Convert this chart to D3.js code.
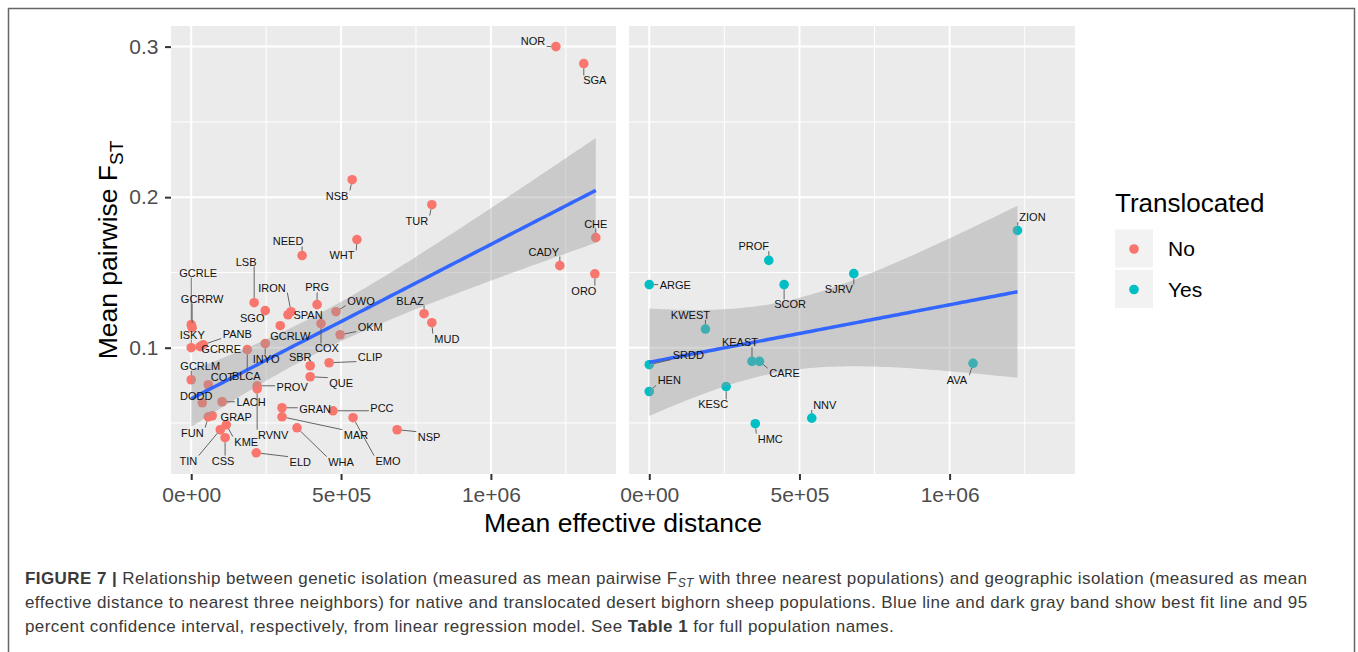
<!DOCTYPE html>
<html>
<head>
<meta charset="utf-8">
<script src="https://cdn.jsdelivr.net/npm/d3@7"></script>
<style>
  body { margin: 0; background: #fff; }
  svg text { font-family: "Liberation Sans", Arial, sans-serif; }
</style>
</head>
<body>
<svg id="chart" width="1358" height="652"></svg>
<script>
// ---- data ----
const popsNo = ["NOR","SGA","NSB","TUR","CHE","WHT","NEED","CADY","ORO","LSB","PRG","SGO","IRON","OWO","SPAN","BLAZ","MUD",
  "GCRLE","GCRRW","GCRLW","COX","OKM","ISKY","PANB","GCRRE","INYO","BLCA","SBR","CLIP","QUE","GCRLM","COT","PROV","RVNV",
  "DODD","LACH","GRAN","PCC","MAR","EMO","GRAP","FUN","KME","TIN","WHA","NSP","CSS","ELD"];
const distNo = [1217000,1310000,537000,803000,1350000,553000,370000,1230000,1347000,210000,420000,247000,333000,483000,323000,777000,803000,
  0,3000,297000,433000,497000,0,40000,30000,247000,187000,397000,460000,397000,0,57000,220000,220000,
  37000,103000,303000,473000,303000,540000,70000,57000,117000,97000,353000,687000,113000,217000];
const fstNo = [0.300,0.2887,0.2116,0.1950,0.1731,0.1718,0.1612,0.1545,0.1491,0.1299,0.1286,0.1246,0.1239,0.1239,0.1219,0.1226,0.1166,
  0.1153,0.1133,0.1146,0.1160,0.1086,0.1000,0.1020,0.1007,0.1027,0.0987,0.0880,0.0900,0.0807,0.0787,0.0754,0.0747,0.0727,
  0.0634,0.0641,0.0601,0.0581,0.0541,0.0535,0.0548,0.0541,0.0488,0.0455,0.0468,0.0455,0.0402,0.0302];

const popsYes = ["ZION","PROF","SJRV","ARGE","SCOR","KWEST","KEAST","CARE","SRDD","AVA","HEN","KESC","HMC","NNV"];
const distYes = [1226000,398000,681000,0,449000,187000,342000,367000,0,1078000,0,256000,353000,541000];
const fstYes  = [0.1779,0.1580,0.1492,0.1419,0.1419,0.1124,0.0909,0.0909,0.0887,0.0896,0.0709,0.0742,0.0495,0.0532];

const xMajor = [0, 5e5, 1e6];
const xMinor = [2.5e5, 7.5e5, 1.25e6];
const yMajor = [0.1, 0.2, 0.3];
const yMinor = [0.05, 0.15, 0.25];
const groupLabels = ["No", "Yes"];

// label placement (repel layout, px offsets from each point)
const nudge = {
  NOR:[-23,-5], SGA:[11,17], NSB:[-15,16], TUR:[-15,16], CHE:[0,-14], WHT:[-15,16], NEED:[-14,-14], CADY:[-16,-14],
  ORO:[-11,17], LSB:[-8,-41], PRG:[0,-17], SGO:[-13,7], IRON:[-19,-24], OWO:[25,-11], SPAN:[20,0], BLAZ:[-14,-13],
  MUD:[15,16], GCRLE:[7,-52], GCRRW:[10,-29], GCRLW:[10,10], COX:[6,25], OKM:[30,-8], ISKY:[1,-13], PANB:[34,-11],
  GCRRE:[21,3], INYO:[1,16], BLCA:[-1,26], SBR:[-10,-9], CLIP:[41,-6], QUE:[31,6], GCRLM:[9,-14], COT:[14,-8],
  PROV:[35,1], RVNV:[16,46], DODD:[-6,-7], LACH:[29,0], GRAN:[33,1], PCC:[49,-3], MAR:[74,18], EMO:[35,43],
  GRAP:[24,1], FUN:[-16,16], KME:[20,17], TIN:[-32,31], WHA:[44,34], NSP:[32,7], CSS:[-2,23], ELD:[44,9],
  ZION:[15,-13], PROF:[-15,-14], SJRV:[-15,16], ARGE:[26,1], SCOR:[6,20], KWEST:[-15,-14], KEAST:[-12,-19],
  CARE:[25,12], SRDD:[39,-10], AVA:[-16,17], HEN:[20,-11], KESC:[-13,18], HMC:[15,15], NNV:[13,-13]
};

const colNo = "#F8766D", colYes = "#00BFC4";
const svg = d3.select("#chart");

// figure frame
svg.append("rect").attr("x", 8.5).attr("y", 8.5).attr("width", 1346).attr("height", 700)
  .attr("fill", "none").attr("stroke", "#666").attr("stroke-width", 1.5);

const panelTop = 26, panelBottom = 474;
const y = d3.scaleLinear().domain([0.0161, 0.3137]).range([panelBottom, panelTop]);
const xDomain = [-67500, 1417500];

// simple OLS with confidence band
function fitLM(xs, ys, tval) {
  const n = xs.length, mx = d3.mean(xs), my = d3.mean(ys);
  let sxx = 0, sxy = 0;
  xs.forEach((v, i) => { sxx += (v - mx) ** 2; sxy += (v - mx) * (ys[i] - my); });
  const b = sxy / sxx, a = my - b * mx;
  let rss = 0;
  xs.forEach((v, i) => { rss += (ys[i] - (a + b * v)) ** 2; });
  const s2 = rss / (n - 2);
  const lo = d3.min(xs), hi = d3.max(xs);
  return d3.range(81).map(i => {
    const xv = lo + (hi - lo) * i / 80;
    const fit = a + b * xv;
    const se = Math.sqrt(s2 * (1 / n + (xv - mx) ** 2 / sxx));
    return { x: xv, fit: fit, lo: fit - tval * se, hi: fit + tval * se };
  });
}

function drawPanel(x0, x1, pops, dist, fst, color, tval, showY, id) {
  const x = d3.scaleLinear().domain(xDomain).range([x0, x1]);
  const g = svg.append("g");

  g.append("clipPath").attr("id", "clip" + id).append("rect")
    .attr("x", x0).attr("y", panelTop).attr("width", x1 - x0).attr("height", panelBottom - panelTop);

  g.append("rect").attr("x", x0).attr("y", panelTop).attr("width", x1 - x0).attr("height", panelBottom - panelTop)
    .attr("fill", "#EBEBEB");

  // grid
  g.selectAll(".ymin").data(yMinor).enter().append("line")
    .attr("x1", x0).attr("x2", x1).attr("y1", d => y(d)).attr("y2", d => y(d))
    .attr("stroke", "#fff").attr("stroke-width", 1);
  g.selectAll(".xmin").data(xMinor).enter().append("line")
    .attr("y1", panelTop).attr("y2", panelBottom).attr("x1", d => x(d)).attr("x2", d => x(d))
    .attr("stroke", "#fff").attr("stroke-width", 1);
  g.selectAll(".ymaj").data(yMajor).enter().append("line")
    .attr("x1", x0).attr("x2", x1).attr("y1", d => y(d)).attr("y2", d => y(d))
    .attr("stroke", "#fff").attr("stroke-width", 2);
  g.selectAll(".xmaj").data(xMajor).enter().append("line")
    .attr("y1", panelTop).attr("y2", panelBottom).attr("x1", d => x(d)).attr("x2", d => x(d))
    .attr("stroke", "#fff").attr("stroke-width", 2);

  // points
  const pts = pops.map((p, i) => ({ name: p, px: x(dist[i]), py: y(fst[i]) }));
  g.append("g").selectAll("circle").data(pts).enter().append("circle")
    .attr("cx", d => d.px).attr("cy", d => d.py).attr("r", 4.8)
    .attr("fill", color);

  // regression band and line
  const fit = fitLM(dist, fst, tval);
  const cg = g.append("g").attr("clip-path", "url(#clip" + id + ")");
  cg.append("path").datum(fit)
    .attr("d", d3.area().x(d => x(d.x)).y0(d => y(d.lo)).y1(d => y(d.hi)))
    .attr("fill", "#999").attr("fill-opacity", 0.4);
  cg.append("path").datum(fit)
    .attr("d", d3.line().x(d => x(d.x)).y(d => y(d.fit)))
    .attr("fill", "none").attr("stroke", "#3366FF").attr("stroke-width", 3.5);

  // labels with segments
  const lg = g.append("g");
  const segs = lg.append("g");
  pts.forEach(d => {
    const off = nudge[d.name] || [0, -12];
    const t = lg.append("text")
      .attr("x", d.px + off[0]).attr("y", d.py + off[1]).attr("dy", "0.35em")
      .attr("text-anchor", "middle").attr("font-size", 11).attr("fill", "#111")
      .text(d.name);
    const bb = t.node().getBBox();
    const pad = 1.5;
    const bx = Math.max(bb.x - pad, Math.min(d.px, bb.x + bb.width + pad));
    const by = Math.max(bb.y + 1, Math.min(d.py, bb.y + bb.height - 1));
    const dx = bx - d.px, dy = by - d.py, len = Math.hypot(dx, dy);
    if (len > 4.8 + 3) {
      segs.append("line")
        .attr("x1", d.px + dx / len * 4.8).attr("y1", d.py + dy / len * 4.8)
        .attr("x2", bx).attr("y2", by)
        .attr("stroke", "#555").attr("stroke-width", 0.9);
    }
  });

  // axes
  const xa = g.append("g").attr("transform", `translate(0,${panelBottom})`)
    .call(d3.axisBottom(x).tickValues(xMajor).tickSize(6).tickPadding(7)
      .tickFormat(d => d === 0 ? "0e+00" : d3.format(".0e")(d).replace("e+", "e+0")));
  styleAxis(xa);
  if (showY) {
    const ya = g.append("g").attr("transform", `translate(${x0},0)`)
      .call(d3.axisLeft(y).tickValues(yMajor).tickSize(6).tickPadding(6.5).tickFormat(d3.format(".1f")));
    styleAxis(ya);
  }
}

function styleAxis(a) {
  a.select(".domain").remove();
  a.selectAll(".tick line").attr("stroke", "#333").attr("stroke-width", 2);
  a.selectAll(".tick text").attr("fill", "#4D4D4D").attr("font-size", 21)
    .attr("font-family", "'Liberation Sans', Arial, sans-serif");
}

drawPanel(171, 616, popsNo, distNo, fstNo, colNo, 2.014, true, "L");
drawPanel(629, 1075, popsYes, distYes, fstYes, colYes, 2.179, false, "R");

// axis titles
svg.append("text").attr("x", 623).attr("y", 532).attr("text-anchor", "middle")
  .attr("font-size", 26.5).attr("fill", "#000").text("Mean effective distance");
const yt = svg.append("text").attr("transform", "translate(117,250) rotate(-90)")
  .attr("text-anchor", "middle").attr("font-size", 26.5).attr("fill", "#000");
yt.append("tspan").text("Mean pairwise F");
yt.append("tspan").attr("font-size", 19).attr("dy", 6).text("ST");

// legend
const leg = svg.append("g");
leg.append("text").attr("x", 1115).attr("y", 212).attr("font-size", 26).attr("fill", "#000").text("Translocated");
[colNo, colYes].forEach((c, i) => {
  const ky = 229.5 + i * 40.5;
  leg.append("rect").attr("x", 1115).attr("y", ky).attr("width", 38).attr("height", 38).attr("fill", "#F2F2F2");
  leg.append("circle").attr("cx", 1134).attr("cy", ky + 19.5).attr("r", 4.8).attr("fill", c);
  leg.append("text").attr("x", 1168).attr("y", ky + 19.5).attr("dy", "0.35em")
    .attr("font-size", 21).attr("fill", "#000").text(groupLabels[i]);
});

// caption
const cap = svg.append("g").attr("font-size", 17).attr("letter-spacing", 0.42).attr("fill", "#3a3a3a");
const l1 = cap.append("text").attr("x", 25).attr("y", 584);
l1.append("tspan").attr("font-weight", "bold").text("FIGURE 7 |");
l1.append("tspan").text(" Relationship between genetic isolation (measured as mean pairwise F");
l1.append("tspan").attr("font-style", "italic").attr("font-size", 12).attr("dy", 3).text("ST");
l1.append("tspan").attr("dy", -3).text(" with three nearest populations) and geographic isolation (measured as mean");
cap.append("text").attr("x", 25).attr("y", 608)
  .text("effective distance to nearest three neighbors) for native and translocated desert bighorn sheep populations. Blue line and dark gray band show best fit line and 95");
const l3 = cap.append("text").attr("x", 25).attr("y", 632);
l3.append("tspan").text("percent confidence interval, respectively, from linear regression model. See ");
l3.append("tspan").attr("font-weight", "bold").text("Table 1");
l3.append("tspan").text(" for full population names.");
</script>
</body>
</html>
